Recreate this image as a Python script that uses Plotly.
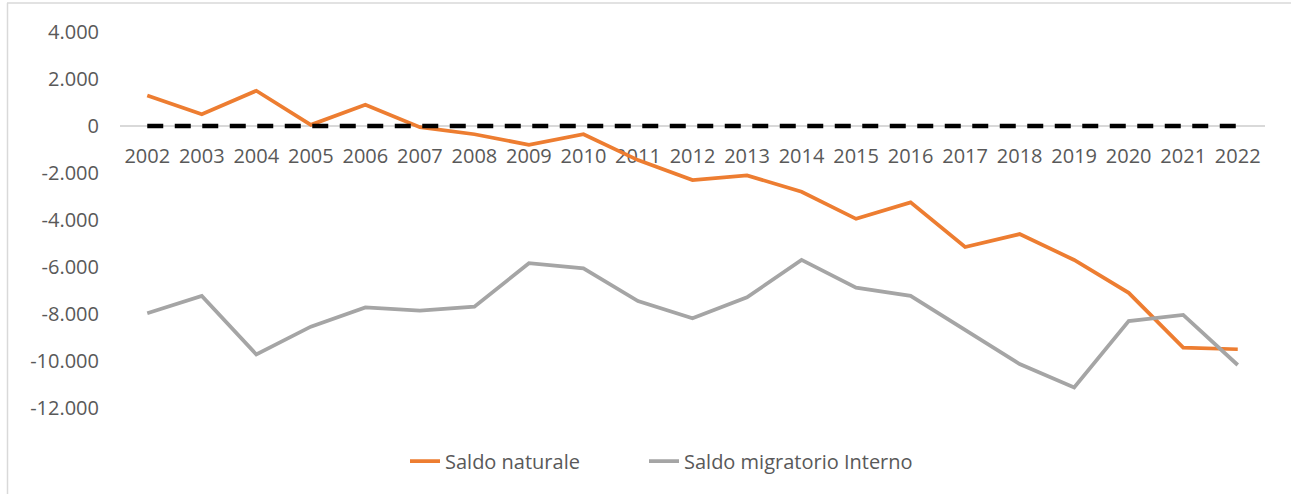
import plotly.graph_objects as go

years = [str(y) for y in range(2002, 2023)]
saldo_naturale = [1300, 500, 1500, 50, 900, -50, -350, -800, -350, -1450, -2300, -2100,
                  -2800, -3950, -3250, -5150, -4600, -5700, -7100, -9430, -9500]
saldo_migratorio = [-7970, -7230, -9720, -8540, -7720, -7860, -7690, -5840, -6060, -7450,
                    -8180, -7290, -5700, -6880, -7230, -8680, -10130, -11130, -8300, -8040, -10170]
zero_line = [0] * len(years)
y_tickvals = [4000, 2000, 0, -2000, -4000, -6000, -8000, -10000, -12000]
y_ticktext = ["4.000", "2.000", "0", "-2.000", "-4.000", "-6.000", "-8.000", "-10.000", "-12.000"]

FONT = "Open Sans, Lato, Noto Sans, sans-serif"
TXT = "#595959"

W, H = 1291, 494
L, R, T, B = 120, 26, 32, 86
pw, ph = W - L - R, H - T - B

fig = go.Figure()
fig.add_trace(go.Scatter(x=years, y=saldo_naturale, mode="lines", name="Saldo naturale",
                         legend="legend",
                         line=dict(color="#ED7D31", width=3.75)))
fig.add_trace(go.Scatter(x=years, y=saldo_migratorio, mode="lines", name="Saldo migratorio Interno",
                         legend="legend2",
                         line=dict(color="#A5A5A5", width=3.75)))
fig.add_trace(go.Scatter(x=years, y=zero_line, mode="lines", showlegend=False,
                         line=dict(color="#000000", width=4.5, dash="16px,11.5px")))

def px_x(x):
    return (x - L) / pw

def px_y(y):
    return (H - B - y) / ph

legend_style = dict(orientation="h", xanchor="left", y=px_y(461), yanchor="middle",
                    font=dict(size=20, color=TXT), bgcolor="rgba(0,0,0,0)")

fig.update_layout(
    width=W, height=H,
    margin=dict(l=L, r=R, t=T, b=B),
    paper_bgcolor="white", plot_bgcolor="white",
    font=dict(family=FONT, color=TXT, size=20),
    xaxis=dict(type="category", range=[-0.5, 20.5], anchor="free", position=0.75,
               showline=True, linecolor="#D9D9D9", linewidth=2, showgrid=False,
               layer="below traces", ticks="", ticklabelstandoff=12,
               tickfont=dict(size=20, color=TXT), zeroline=False),
    yaxis=dict(range=[-12000, 4000], tickvals=y_tickvals, ticktext=y_ticktext,
               showgrid=False, zeroline=False, showline=False, ticks="",
               ticklabelstandoff=20, tickfont=dict(size=20, color=TXT)),
    legend=dict(x=px_x(405), **legend_style),
    legend2=dict(x=px_x(644), **legend_style),
    showlegend=True,
    shapes=[
        dict(type="line", xref="paper", yref="paper", x0=px_x(7), x1=px_x(1291),
             y0=px_y(3), y1=px_y(3), line=dict(color="#D9D9D9", width=1.5)),
        dict(type="line", xref="paper", yref="paper", x0=px_x(7.5), x1=px_x(7.5),
             y0=px_y(3), y1=px_y(494), line=dict(color="#D9D9D9", width=1.5)),
    ],
)

fig.write_html("out.html", config={"displayModeBar": False},
               post_script="document.body.style.margin='0';")
